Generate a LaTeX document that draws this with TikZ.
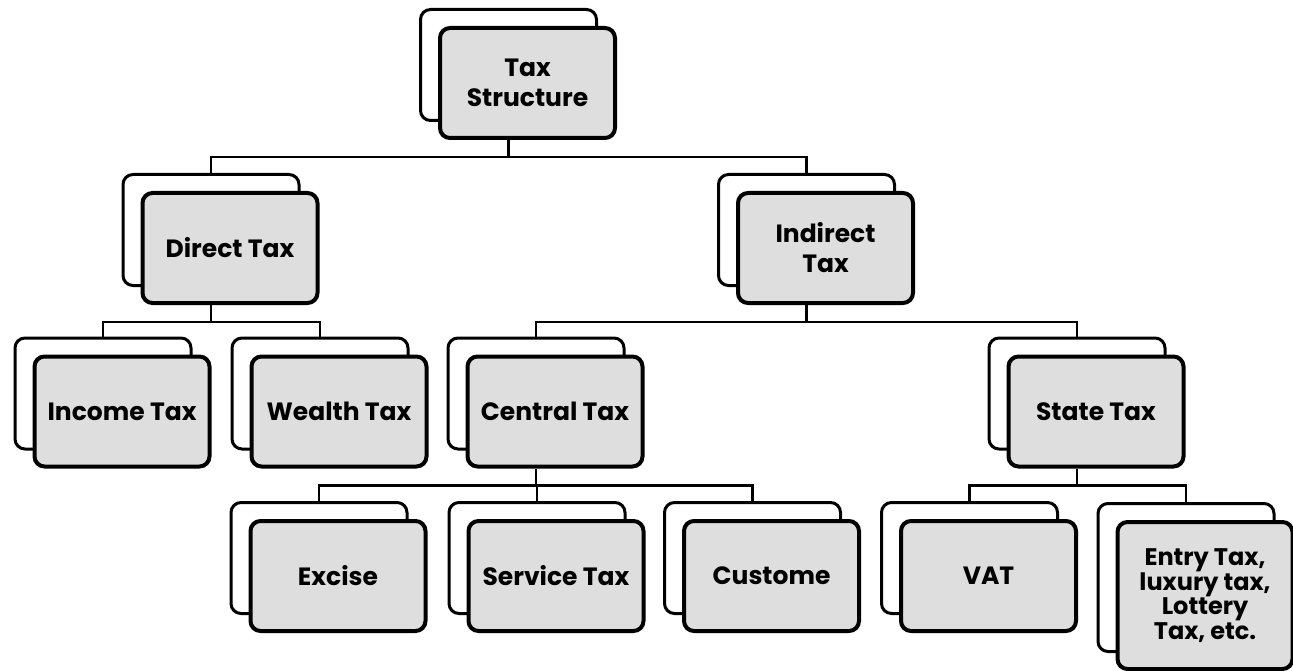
\documentclass[tikz,border=0pt]{standalone}
\usepackage{fontspec}
\setmainfont{Poppins}
\usetikzlibrary{positioning}
\definecolor{boxgray}{HTML}{DEDEDE}

\begin{document}
\begin{tikzpicture}[
    x=1pt, y=-1pt,
    back/.style={draw, line width=3pt, rounded corners=10pt, fill=white, minimum width=176pt, minimum height=111pt, inner sep=0pt},
    front/.style={draw, line width=4pt, rounded corners=10pt, fill=boxgray, minimum width=175pt, minimum height=110pt, inner sep=2pt, align=center, font=\fontsize{25}{30}\selectfont\bfseries},
    conn/.style={line width=2.5pt}
  ]
  \useasboundingbox (0,0) rectangle (1293,671);

  % back cards
  \node[back] (tsb) at (508.5,65) {};
  \node[back] (dtb) at (211,230) {};
  \node[back] (itb) at (806.5,230) {};
  \node[back] (incb) at (103,393.5) {};
  \node[back] (wtb) at (320,393.5) {};
  \node[back] (ctb) at (536,393.5) {};
  \node[back] (stb) at (1077,393.5) {};
  \node[back] (exb) at (319,558) {};
  \node[back] (svb) at (537,558) {};
  \node[back] (cub) at (752.5,558) {};
  \node[back] (vatb) at (969.5,558) {};
  \node[back, minimum height=148pt] (enb) at (1186,577.5) {};

  % front cards
  \node[front, below right=18pt and 19pt of tsb.north west] (ts) {Tax\\Structure};
  \node[front, below right=18pt and 19pt of dtb.north west] (dt) {Direct Tax};
  \node[front, below right=18pt and 19pt of itb.north west] (it) {Indirect\\Tax};
  \node[front, below right=18pt and 19pt of incb.north west] (inc) {Income Tax};
  \node[front, below right=18pt and 19pt of wtb.north west] (wt) {Wealth Tax};
  \node[front, below right=18pt and 19pt of ctb.north west] (ct) {Central Tax};
  \node[front, below right=18pt and 19pt of stb.north west] (st) {State Tax};
  \node[front, below right=18pt and 19pt of exb.north west] (ex) {Excise};
  \node[front, below right=18pt and 19pt of svb.north west] (sv) {Service Tax};
  \node[front, below right=18pt and 19pt of cub.north west] (cu) {Custome};
  \node[front, below right=18pt and 19pt of vatb.north west] (vat) {VAT};
  \node[front, minimum height=147pt, font=\fontsize{24}{22}\selectfont\bfseries,
        below right=18pt and 19pt of enb.north west] (en) {Entry Tax,\\luxury tax,\\Lottery\\Tax, etc.};

  % connectors
  \draw[conn] (tsb |- ts.south) -- ++(0,17) -| (dtb.north);
  \draw[conn] (tsb |- ts.south) -- ++(0,17) -| (itb.north);
  \draw[conn] (dtb |- dt.south) -- ++(0,17) -| (incb.north);
  \draw[conn] (dtb |- dt.south) -- ++(0,17) -| (wtb.north);
  \draw[conn] (itb |- it.south) -- ++(0,17) -| (ctb.north);
  \draw[conn] (itb |- it.south) -- ++(0,17) -| (stb.north);
  \draw[conn] (ctb |- ct.south) -- ++(0,17) -| (exb.north);
  \draw[conn] (ctb |- ct.south) -- ++(0,17) -| (svb.north);
  \draw[conn] (ctb |- ct.south) -- ++(0,17) -| (cub.north);
  \draw[conn] (stb |- st.south) -- ++(0,17) -| (vatb.north);
  \draw[conn] (stb |- st.south) -- ++(0,17) -| (enb.north);
\end{tikzpicture}
\end{document}
